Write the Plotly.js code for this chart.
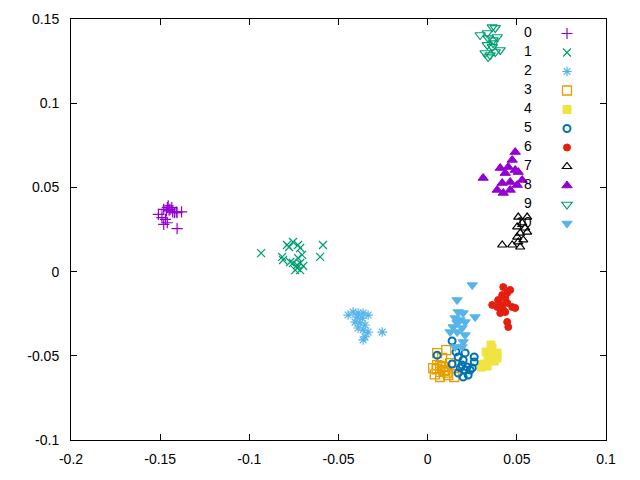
<!DOCTYPE html>
<html>
<head>
<meta charset="utf-8">
<script src="https://cdn.plot.ly/plotly-3.0.1.min.js"></script>
<style>html,body{margin:0;padding:0;background:#fff;}#chart{width:640px;height:480px;}</style>
</head>
<body>
<div id="chart"></div>
<script>
// ---- data ----
const labels = ["0","1","2","3","4","5","6","7","8","9","10"];

const x0 = [-0.151,-0.148,-0.146,-0.1455,-0.1445,-0.1435,-0.143,-0.142,-0.141,-0.1405,-0.138,-0.147,-0.148,-0.146,-0.1405,-0.1465,-0.145,-0.149];
const y0 = [0.034,0.037,0.038,0.039,0.037,0.038,0.0355,0.035,0.0355,0.035,0.0355,0.031,0.028,0.029,0.0255,0.036,0.0365,0.032];

const x1 = [-0.0934,-0.0755,-0.0777,-0.0789,-0.0727,-0.0715,-0.0587,-0.0603,-0.0816,-0.0811,-0.0771,-0.0755,-0.0732,-0.0715,-0.0704,-0.0727,-0.0698,-0.0732,-0.0715,-0.0743];
const y1 = [0.011,0.0176,0.0146,0.0158,0.0158,0.014,0.0158,0.0087,0.0087,0.0069,0.0057,0.0051,0.0039,0.0051,0.0099,0.0081,0.0033,0.0021,0.0009,0.0009];

const x2 = [-0.0446,-0.0418,-0.039,-0.0362,-0.0334,-0.0367,-0.0407,-0.0379,-0.0351,-0.039,-0.0362,-0.0334,-0.0351,-0.0362,-0.0255,-0.0396];
const y2 = [-0.0258,-0.024,-0.0246,-0.0246,-0.0258,-0.0276,-0.03,-0.0305,-0.0317,-0.0335,-0.0347,-0.0359,-0.0388,-0.0406,-0.0359,-0.027];

const x3 = [0.0053,0.0104,0.0081,0.0031,0.0053,0.007,0.0098,0.0115,0.0149,0.0149,0.0126,0.0087,0.007,0.005,0.007,0.009,0.004,0.011];
const y3 = [-0.0484,-0.0466,-0.0513,-0.0573,-0.0555,-0.0626,-0.0584,-0.0614,-0.0626,-0.0555,-0.0543,-0.0567,-0.0596,-0.058,-0.056,-0.059,-0.061,-0.06];

const x4 = [0.0355,0.0328,0.035,0.0389,0.0389,0.0339,0.0361,0.0311,0.0334,0.03,0.0373,0.0361];
const y4 = [-0.0436,-0.0478,-0.0484,-0.0484,-0.0513,-0.0513,-0.0501,-0.0549,-0.0561,-0.0567,-0.0531,-0.0454];

const x5 = [0.0137,0.0159,0.021,0.0171,0.0199,0.0261,0.0261,0.0137,0.0193,0.0221,0.0238,0.0171,0.0199,0.0227,0.025,0.0182,0.021,0.0053];
const y5 = [-0.0412,-0.0477,-0.0483,-0.0507,-0.0525,-0.0507,-0.0537,-0.0549,-0.0555,-0.0567,-0.0584,-0.0602,-0.0626,-0.0614,-0.0572,-0.0572,-0.0584,-0.0496];

const x6 = [0.0424,0.0463,0.0446,0.0418,0.0435,0.0395,0.0362,0.039,0.0418,0.0446,0.0474,0.0491,0.0424,0.0407,0.0435,0.0446,0.0452];
const y6 = [-0.0092,-0.0109,-0.0127,-0.0139,-0.0157,-0.0169,-0.0198,-0.021,-0.0198,-0.0186,-0.021,-0.0216,-0.0228,-0.0246,-0.024,-0.0299,-0.0329];

const x7 = [0.0508,0.0558,0.053,0.0502,0.0547,0.0519,0.0502,0.0536,0.0418,0.0474,0.0519,0.0558,0.0508];
const y7 = [0.0324,0.0324,0.0289,0.0265,0.0259,0.0229,0.0205,0.0188,0.0158,0.0158,0.0146,0.0235,0.0176];

const x8 = [0.0491,0.0474,0.0407,0.0452,0.0491,0.0435,0.0508,0.0311,0.0418,0.0463,0.053,0.039,0.0424,0.0463,0.0502];
const y8 = [0.071,0.0663,0.0615,0.0621,0.0603,0.0585,0.0591,0.0556,0.0526,0.0532,0.0544,0.0485,0.0467,0.0485,0.0514];

const x9 = [0.0294,0.0334,0.0362,0.0379,0.0339,0.0367,0.039,0.0334,0.0362,0.0407,0.0322,0.035,0.0379,0.0339,0.0367];
const y9 = [0.1405,0.1417,0.1452,0.1447,0.1387,0.1375,0.1393,0.1346,0.1334,0.1316,0.1298,0.1286,0.1304,0.1274,0.1357];

const x10 = [0.025,0.0165,0.0171,0.0199,0.0266,0.0154,0.0182,0.021,0.0165,0.0143,0.0193,0.0126,0.0165,0.021,0.0199,0.0154,0.0193];
const y10 = [-0.008,-0.0169,-0.024,-0.0246,-0.027,-0.0276,-0.0288,-0.03,-0.0305,-0.0329,-0.0335,-0.0359,-0.0359,-0.0377,-0.0418,-0.0448,-0.0448];

const xTickVals = [-0.2,-0.15,-0.1,-0.05,0,0.05,0.1];
const xTickText = ["-0.2","-0.15","-0.1","-0.05","0","0.05","0.1"];
const yTickVals = [-0.1,-0.05,0,0.05,0.1,0.15];
const yTickText = ["-0.1","-0.05","0","0.05","0.1","0.15"];

// ---- styles ----
const xs = [x0,x1,x2,x3,x4,x5,x6,x7,x8,x9,x10];
const ys = [y0,y1,y2,y3,y4,y5,y6,y7,y8,y9,y10];
const colors = ['#9400d3','#009e73','#56b4e9','#e69f00','#f0e442','#0072b2','#e51e10','#000000','#9400d3','#009e73','#56b4e9'];
const symbols = ['cross-thin-open','x-thin-open','asterisk-open','square-open','square','circle-open','circle','triangle-up-open','triangle-up','triangle-down-open','triangle-down'];
const sizes = [8,8,8,9,8,7,7,8,9,9,9];
const widths = [1.2,1.2,1.2,1.3,1,2,1,1.2,1,1.2,1];

const traces = xs.map((xv,i)=>({
  type:'scatter', mode:'markers', x:xv, y:ys[i], name:' ',
  hovertext: labels[i],
  marker:{symbol:symbols[i], color:colors[i], size:sizes[i], line:{color:colors[i], width:widths[i]}}
}));

const L = 71, R = 34, T = 19, B = 40;
const plotH = 480 - T - B;
const annotations = labels.map((lab,i)=>({
  xref:'paper', yref:'paper', x:(534-L)/(640-L-R), xanchor:'right',
  y:1 - (13 + 19*i)/plotH, yanchor:'middle',
  text:lab, showarrow:false, font:{family:'Liberation Sans, Arial, sans-serif', size:14, color:'#000'}
}));

const axisCommon = {
  showline:true, linecolor:'#000', linewidth:1, mirror:'ticks',
  ticks:'inside', ticklen:6, tickcolor:'#000', tickwidth:1,
  showgrid:false, zeroline:false, tickmode:'array',
  tickfont:{family:'Liberation Sans, Arial, sans-serif', size:14, color:'#000'}
};

const layout = {
  width:640, height:480,
  margin:{l:L, r:R, t:T, b:B},
  paper_bgcolor:'#fff', plot_bgcolor:'#fff',
  xaxis:Object.assign({}, axisCommon, {range:[-0.2,0.1], tickvals:xTickVals, ticktext:xTickText, ticklabelstandoff:6}),
  yaxis:Object.assign({}, axisCommon, {range:[-0.1,0.15], tickvals:yTickVals, ticktext:yTickText, ticklabelstandoff:8}),
  showlegend:true,
  legend:{x:(547-L)/(640-L-R), xanchor:'left', y:1, yanchor:'top', bgcolor:'rgba(0,0,0,0)', borderwidth:0,
          font:{size:12}, itemwidth:30, tracegroupgap:0},
  annotations:annotations
};

Plotly.newPlot('chart', traces, layout, {displayModeBar:false, staticPlot:true});
</script>
</body>
</html>
